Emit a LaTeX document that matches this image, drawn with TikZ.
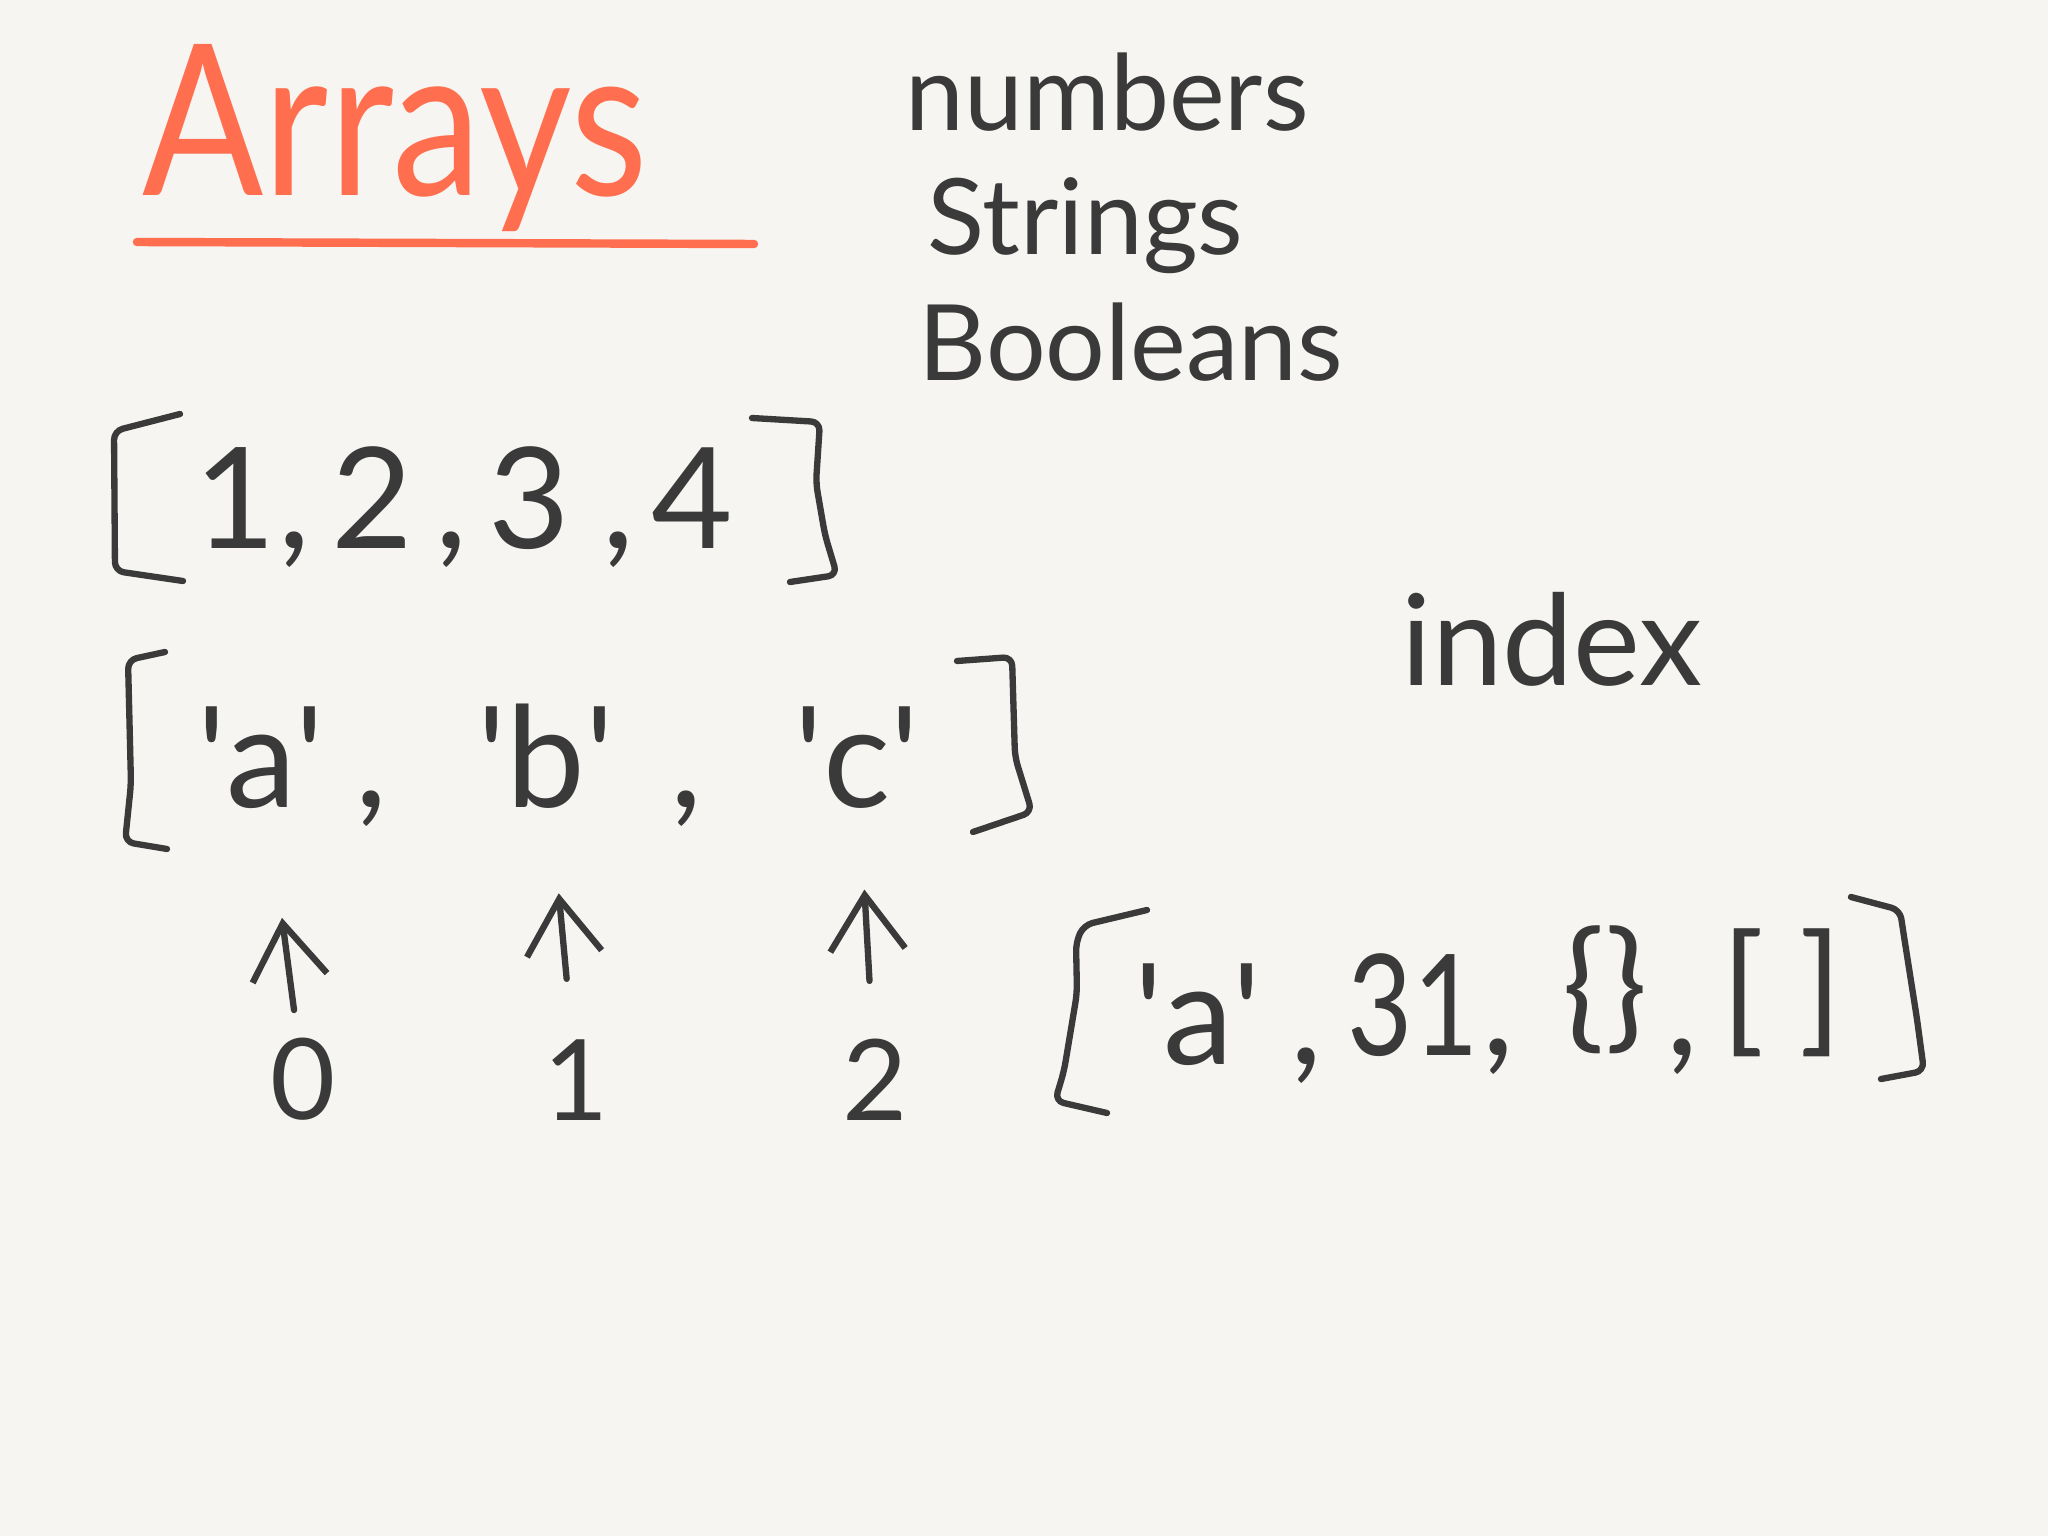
\documentclass[tikz,border=0pt]{standalone}
\usepackage{fontspec}
\setmainfont{Lato}
\usepackage{xcolor}
\usepackage{tikz}
\usetikzlibrary{arrows.meta, positioning}
\definecolor{notebg}{RGB}{246, 245, 241}
\definecolor{ink}{RGB}{58, 58, 58}
\definecolor{hilite}{RGB}{255, 110, 78}
\newcommand{\tick}{\textquotesingle}

\begin{document}
\begin{tikzpicture}[
        title/.style={text=hilite, font=\fontsize{60}{60}\selectfont,
                      inner sep=0pt, anchor=base west},
        word/.style={text=ink, font=\fontsize{30}{30}\selectfont,
                     inner sep=0pt, anchor=base west},
        elem/.style={text=ink, font=\fontsize{40}{40}\selectfont,
                     inner sep=0pt, anchor=base},
        idx/.style={text=ink, font=\fontsize{32}{32}\selectfont,
                    inner sep=0pt, anchor=base},
        brak/.style={draw=ink, line width=1.8pt, line cap=round,
                     line join=round, rounded corners=2.5pt},
        pointer/.style={draw=ink, line width=1.8pt, line cap=round,
                        -{Straight Barb[length=5.5mm, width=7.5mm, line width=1.8pt]}},
      ]
        \fill[notebg] (0,0) rectangle (20.48,-15.36);
        \useasboundingbox (0,0) rectangle (20.48,-15.36);

        % heading
        \node[title] (arrays) at (1.42,-1.96) {\scalebox{0.85}[1]{Arrays}};
        \draw[hilite, line width=2.4pt, line cap=round] (1.37,-2.42) -- (7.54,-2.44);

        \node[word] (numbers) at (9.05,-1.31) {numbers};
        \node[word] (strings) at (9.27,-2.55) {Strings};
        \node[word] (booleans) at (9.18,-3.81) {Booleans};
        \node[word, font=\fontsize{36}{36}\selectfont] (index) at (14.01,-6.86) {index};

        % numbers array
        \draw[brak] (1.80,-4.14) -- (1.14,-4.31) -- (1.15,-5.71) -- (1.83,-5.81);
        \node[elem] (one) at (2.35,-5.49) {1};
        \node[elem] (ca1) at (2.94,-5.49) {,};
        \node[elem] (two) at (3.72,-5.49) {2};
        \node[elem] (ca2) at (4.51,-5.49) {,};
        \node[elem] (three) at (5.29,-5.49) {3};
        \node[elem] (ca3) at (6.18,-5.49) {,};
        \node[elem] (four) at (6.92,-5.49) {4};
        \draw[brak] (7.52,-4.18) -- (8.20,-4.22) -- (8.16,-4.83) -- (8.25,-5.35)
                    -- (8.37,-5.75) -- (7.90,-5.82);

        % strings array
        \draw[brak] (1.65,-6.52) -- (1.28,-6.60) -- (1.31,-7.84) -- (1.25,-8.42) -- (1.67,-8.49);
        \node[elem] (sa) at (2.61,-8.07) {\tick a\tick};
        \node[elem] (cb1) at (3.71,-8.07) {,};
        \node[elem] (sb) at (5.46,-8.07) {\tick b\tick};
        \node[elem] (cb2) at (6.86,-8.07) {,};
        \node[elem] (sc) at (8.57,-8.07) {\tick c\tick};
        \draw[brak] (9.57,-6.61) -- (10.12,-6.57) -- (10.15,-7.57) -- (10.32,-8.12) -- (9.73,-8.32);

        % positions
        \node[idx] (i0) at (3.03,-11.19) {0};
        \node[idx] (i1) at (5.76,-11.20) {1};
        \node[idx] (i2) at (8.75,-11.20) {2};
        \draw[pointer, shorten <=2.7mm, shorten >=11mm] (i0) -- (sa);
        \draw[pointer, shorten <=6mm, shorten >=8.5mm] (i1) -- (sb);
        \draw[pointer, shorten <=5.7mm, shorten >=8.1mm] (i2) -- (sc);

        % mixed array
        \draw[brak] (11.47,-9.10) -- (10.84,-9.25) -- (10.76,-9.42) -- (10.77,-9.93)
                    -- (10.64,-10.71) -- (10.55,-11.01) -- (11.07,-11.13);
        \node[elem] (ta) at (11.98,-10.64) {\tick a\tick};
        \node[elem] (tc1) at (13.06,-10.64) {,};
        \node[elem] (tn) at (14.13,-10.55) {\scalebox{0.8}[1]{31}};
        \node[elem] (tc2) at (14.98,-10.55) {,};
        \node[elem, anchor=center] (tobj) at (16.05,-9.90) {\{\}};
        \node[elem] (tc3) at (16.82,-10.55) {,};
        \node[elem, anchor=center] (tlist) at (17.82,-9.93) {[\hspace{0.25em}]};
        \draw[brak] (18.51,-8.97) -- (19.00,-9.10) -- (19.03,-9.30) -- (19.17,-10.19)
                    -- (19.24,-10.71) -- (18.81,-10.79);
      \end{tikzpicture}
\end{document}
